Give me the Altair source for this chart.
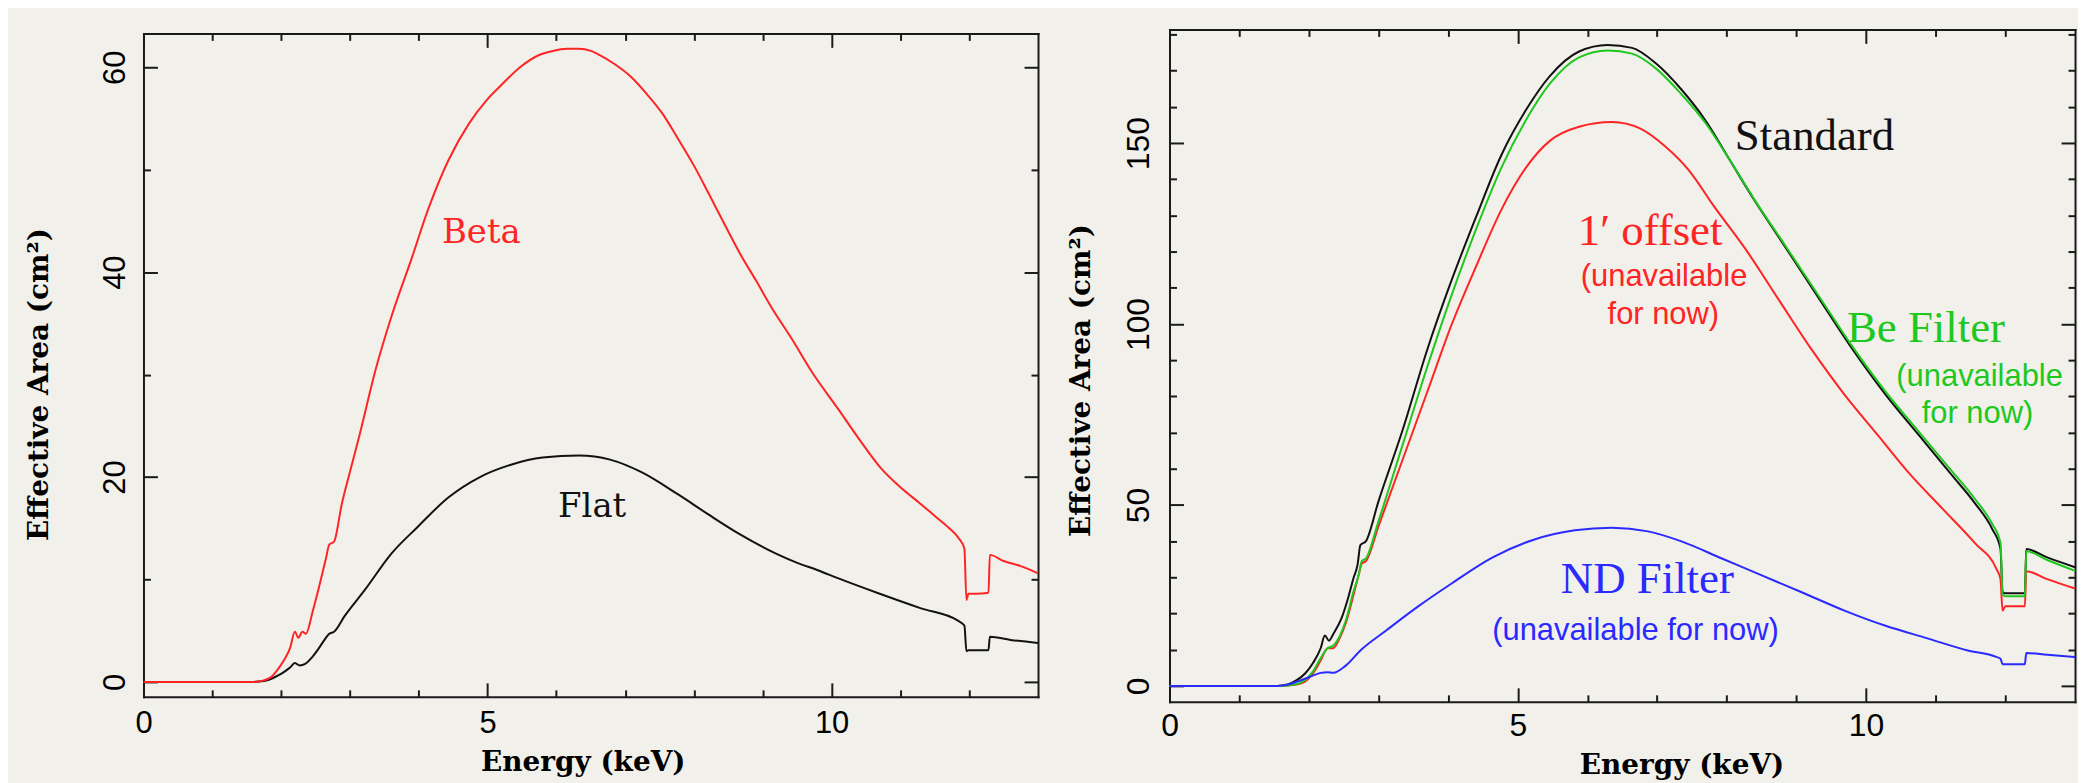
import altair as alt
import pandas as pd

# ---------------- data ----------------
# Left panel
BETA_E = [0, 1.6, 1.75, 1.86, 1.95, 2.05, 2.13, 2.2, 2.25, 2.31, 2.36, 2.46, 2.56, 2.65, 2.70, 2.77,
          2.88, 3.0, 3.14, 3.37, 3.6, 3.9, 4.13, 4.43, 4.73, 5.0, 5.19, 5.49, 5.75, 5.95, 6.15, 6.33,
          6.5, 6.63, 6.85, 7.08, 7.3, 7.54, 7.77, 8.0, 8.22, 8.45, 8.67, 8.9, 9.15, 9.43, 9.7, 10.1,
          10.4, 10.7, 11.0, 11.29, 11.5, 11.71, 11.85, 11.93, 11.96, 11.99, 12.1, 12.28, 12.30, 12.5,
          12.75, 13.0]
BETA_A = [0, 0, 0.15, 0.5, 1.2, 2.2, 3.3, 4.9, 4.3, 4.9, 4.7, 6.9, 9.5, 12.0, 13.4, 13.7,
          17.3, 20.5, 24.1, 30.4, 35.6, 41.4, 46.0, 50.9, 54.5, 56.9, 58.2, 60.1, 61.2, 61.6, 61.8, 61.8,
          61.6, 61.2, 60.3, 59.1, 57.5, 55.5, 53.0, 50.4, 47.6, 44.6, 41.8, 39.2, 36.3, 33.4, 30.4, 26.6,
          23.7, 21.0, 19.0, 17.4, 16.2, 15.0, 14.0, 13.0, 8.0, 8.6, 8.6, 8.7, 12.4, 11.8,
          11.3, 10.6]
FLAT_E = [0, 1.6, 1.75, 1.86, 1.95, 2.05, 2.13, 2.2, 2.27, 2.35, 2.45, 2.54, 2.62, 2.70, 2.77, 2.92,
          3.22, 3.6, 3.98, 4.43, 4.89, 5.34, 5.8, 6.33, 6.78, 7.23, 7.77, 8.22, 8.67, 9.2, 9.51, 9.8,
          10.1, 10.7, 11.29, 11.83, 11.93, 11.96, 11.99, 12.1, 12.28, 12.30, 12.6, 13.0]
FLAT_A = [0, 0, 0.08, 0.3, 0.6, 1.0, 1.4, 1.85, 1.6, 1.75, 2.4, 3.2, 4.0, 4.7, 4.9, 6.4,
          9.0, 12.5, 15.1, 18.0, 20.0, 21.2, 21.9, 22.1, 21.7, 20.5, 18.3, 16.3, 14.4, 12.5, 11.6, 10.9,
          10.1, 8.6, 7.2, 6.0, 5.5, 3.0, 3.1, 3.1, 3.1, 4.4, 4.1, 3.8]

# Right panel
STD_E = [0, 1.55, 1.7, 1.82, 1.95, 2.06, 2.17, 2.23, 2.29, 2.35, 2.47, 2.56, 2.64, 2.70, 2.74, 2.82,
         3.0, 3.35, 3.7, 4.05, 4.41, 4.76, 5.11, 5.46, 5.88, 6.29, 6.64, 6.99, 7.34, 7.7, 8.05, 8.4,
         8.87, 9.34, 9.81, 10.28, 10.75, 11.22, 11.57, 11.81, 11.93, 11.96, 11.99, 12.1, 12.28, 12.30,
         12.6, 13.0]
STD_A = [0, 0, 0.4, 1.5, 3.5, 6.3, 10.4, 13.9, 12.5, 14.3, 18.7, 24.0, 29.7, 33.5, 38.9, 40.0,
         51.0, 70.9, 92.9, 112.1, 130.0, 146.5, 158.9, 168.5, 175.3, 177.1, 176.3, 171.9, 165.0, 156.1,
         145.1, 134.1, 120.4, 106.6, 92.9, 80.5, 69.5, 58.5, 50.3, 43.4, 37.9, 26.0, 25.6, 25.6, 25.6,
         37.8, 35.5, 32.8]
OFF_E = [0, 1.6, 1.8, 1.94, 2.06, 2.17, 2.27, 2.35, 2.45, 2.53, 2.64, 2.72, 2.76, 2.82, 3.0, 3.35,
         3.7, 4.05, 4.41, 4.76, 5.11, 5.46, 5.88, 6.35, 6.76, 7.11, 7.46, 7.81, 8.28, 8.75, 9.22, 9.69,
         10.16, 10.63, 11.1, 11.57, 11.87, 11.93, 11.96, 12.0, 12.1, 12.28, 12.30, 12.6, 13.0]
OFF_A = [0, 0, 0.3, 1.1, 3.5, 7.0, 10.4, 10.4, 13.5, 17.3, 25.0, 31.0, 33.8, 34.5, 44.1, 62.7,
         81.2, 99.8, 116.3, 131.4, 143.0, 150.6, 154.5, 155.8, 154.0, 149.2, 142.4, 132.7, 120.4, 106.6,
         92.9, 80.5, 69.5, 58.5, 48.9, 39.3, 32.4, 29.5, 20.8, 22.0, 22.0, 22.0, 31.7, 29.5, 26.9]
BE_E = [0, 1.6, 1.8, 1.94, 2.06, 2.17, 2.27, 2.35, 2.45, 2.53, 2.64, 2.72, 2.76, 2.82, 3.0, 3.35,
        3.7, 4.05, 4.41, 4.76, 5.11, 5.46, 5.88, 6.29, 6.64, 6.99, 7.34, 7.7, 8.05, 8.4, 8.87, 9.34,
        9.81, 10.28, 10.75, 11.22, 11.57, 11.81, 11.93, 11.96, 11.99, 12.1, 12.28, 12.30, 12.6, 13.0]
BE_A = [0, 0, 0.4, 1.5, 4.0, 7.7, 10.4, 11.1, 14.0, 18.0, 26.0, 31.0, 34.5, 35.2, 45.5, 66.8,
        88.1, 108.0, 126.6, 143.0, 156.1, 166.4, 173.7, 175.6, 174.7, 170.5, 163.7, 155.4, 145.1, 134.3,
        120.8, 107.2, 93.6, 81.3, 70.4, 59.6, 51.5, 44.8, 39.5, 25.5, 24.8, 24.8, 24.8, 37.2, 34.8, 31.8]
ND_E = [0, 1.55, 1.7, 1.82, 2.0, 2.17, 2.27, 2.35, 2.53, 2.74, 3.11, 3.58, 4.05, 4.64, 5.23, 5.82,
        6.35, 6.87, 7.34, 7.93, 8.52, 9.11, 9.69, 10.28, 10.87, 11.46, 11.87, 11.93, 11.96, 12.1,
        12.28, 12.30, 12.6, 13.0]
ND_A = [0, 0, 0.4, 1.1, 2.4, 3.6, 3.8, 3.6, 5.6, 9.8, 15.3, 22.1, 28.3, 35.5, 40.4, 43.0,
        43.7, 42.7, 40.0, 35.2, 30.4, 25.6, 20.8, 16.6, 13.2, 9.8, 8.0, 7.5, 6.0, 6.0,
        6.0, 9.1, 8.6, 8.0]

SERIES = ["Beta", "Flat", "Standard", "1\u2032 offset", "Be Filter", "ND Filter"]
COLORS = ["#ff2424", "#111111", "#111111", "#ff2424", "#1ec81e", "#2a2aff"]

X_MAJOR = [0, 5, 10]
X_MINOR = [1, 2, 3, 4, 6, 7, 8, 9, 11, 12]
L_Y_MAJOR = [0, 20, 40, 60]
L_Y_MINOR = [10, 30, 50]
R_Y_MAJOR = [0, 50, 100, 150]
R_Y_MINOR = [10, 20, 30, 40, 60, 70, 80, 90, 110, 120, 130, 140, 160, 170, 180]

# annotations (text, series, energy, area)
ANN_L_TEXT = ["Beta", "Flat"]
ANN_L_SER = ["Beta", "Flat"]
ANN_L_X = [4.91, 6.52]
ANN_L_Y = [43.8, 17.1]

ANN_R_TEXT = ["Standard", "1\u2032 offset", "Be Filter", "ND Filter"]
ANN_R_SER = ["Standard", "1\u2032 offset", "Be Filter", "ND Filter"]
ANN_R_X = [9.26, 6.9, 10.86, 6.86]
ANN_R_Y = [152.0, 125.8, 98.8, 29.5]

NOTE_TEXT = ["(unavailable", "for now)", "(unavailable", "for now)", "(unavailable for now)"]
NOTE_SER = ["1\u2032 offset", "1\u2032 offset", "Be Filter", "Be Filter", "ND Filter"]
NOTE_X = [7.1, 7.09, 11.63, 11.6, 6.69]
NOTE_Y = [112.9, 102.4, 85.3, 75.1, 15.1]

# ---------------- layout ----------------
W, H = 2078, 775
BG = "#f2f0eb"
FRAME = "#1a1a1a"
SANS = "Liberation Sans"
SERIF = "DejaVu Serif"

PANELS = {
    "L": dict(xr=[136, 1034], yd=[-1.459, 63.31], yr=[690, 24], ymaj=L_Y_MAJOR, ymin=L_Y_MINOR,
              lfs=31, xlp=12, ylp=19, xtx=577, xty=66, ytx=-104, yty=376, tfs=28),
    "R": dict(xr=[1166, 2075], yd=[-4.40, 181.4], yr=[695, 20], ymaj=R_Y_MAJOR, ymin=R_Y_MINOR,
              lfs=32, xlp=9, ylp=21, xtx=1680, xty=64, ytx=-88, yty=372, tfs=28),
}

color_scale = alt.Scale(domain=SERIES, range=COLORS)


def series_df(name, e, a):
    return pd.DataFrame({"keV": e, "area": a, "series": [name] * len(e)})


def xenc(p, axis):
    return alt.X("keV:Q", scale=alt.Scale(domain=[0, 13], range=p["xr"], nice=False, zero=False), axis=axis)


def yenc(p, axis):
    return alt.Y("area:Q", scale=alt.Scale(domain=p["yd"], range=p["yr"], nice=False, zero=False), axis=axis)


def tick_axis(orient, offset, values, size, domain=False):
    return alt.Axis(orient=orient, offset=offset, values=values, ticks=True, tickSize=size,
                    tickWidth=2, tickColor=FRAME, labels=False, domain=domain, domainColor=FRAME,
                    domainWidth=2, domainCap="square", grid=False, title="")


def label_x_axis(p):
    return alt.Axis(orient="bottom", offset=p["yr"][0] - H, values=X_MAJOR, format="d",
                    ticks=False, tickSize=0, domain=True, domainColor=FRAME, domainWidth=2,
                    domainCap="square", grid=False, labelFont=SANS, labelFontSize=p["lfs"],
                    labelColor="#000000", labelPadding=p["xlp"], labelBaseline="top",
                    labelAlign="center", labelFlush=False, labelOverlap=False,
                    title="Energy (keV)", titleFont=SERIF, titleFontSize=p["tfs"], titleFontWeight="bold",
                    titleColor="#000000", titleX=p["xtx"], titleY=p["xty"], titleAlign="center",
                    titleBaseline="middle", titleAngle=0)


def label_y_axis(p):
    return alt.Axis(orient="left", offset=-p["xr"][0], values=p["ymaj"], format="d",
                    ticks=False, tickSize=0, domain=True, domainColor=FRAME, domainWidth=2,
                    domainCap="square", grid=False, labelFont=SANS, labelFontSize=p["lfs"],
                    labelColor="#000000", labelPadding=p["ylp"], labelAngle=270,
                    labelAlign="center", labelBaseline="alphabetic", labelFlush=False,
                    labelOverlap=False, title="Effective Area (cm\u00b2)", titleFont=SERIF,
                    titleFontSize=p["tfs"], titleFontWeight="bold", titleColor="#000000",
                    titleX=p["ytx"], titleY=p["yty"], titleAngle=270, titleAlign="center",
                    titleBaseline="middle")


def panel_layers(key, series_list):
    p = PANELS[key]
    base_df = series_df(*series_list[0])
    layers = []
    # frame + inward ticks (invisible carrier marks)
    edge_specs = [
        (tick_axis("top", -p["yr"][0], X_MAJOR, 14), tick_axis("right", p["xr"][0] - W, p["ymaj"], 14)),
        (tick_axis("top", -p["yr"][0], X_MINOR, 7), tick_axis("right", p["xr"][0] - W, p["ymin"], 7)),
        (tick_axis("bottom", p["yr"][1] - H, X_MAJOR, 14, True), tick_axis("left", -p["xr"][1], p["ymaj"], 14, True)),
        (tick_axis("bottom", p["yr"][1] - H, X_MINOR, 7), tick_axis("left", -p["xr"][1], p["ymin"], 7)),
    ]
    for ax_x, ax_y in edge_specs:
        layers.append(
            alt.Chart(base_df).mark_line(strokeOpacity=0).encode(x=xenc(p, ax_x), y=yenc(p, ax_y))
        )
    # data lines
    for i, (name, e, a) in enumerate(series_list):
        df = series_df(name, e, a)
        if i == 0:
            xa, ya = label_x_axis(p), label_y_axis(p)
        else:
            xa, ya = None, None
        layers.append(
            alt.Chart(df).mark_line(strokeWidth=2, strokeJoin="round", interpolate="monotone").encode(
                x=xenc(p, xa), y=yenc(p, ya),
                color=alt.Color("series:N", scale=color_scale, legend=None),
            )
        )
    return layers


def text_layer(key, texts, sers, xs, ys, font, size):
    p = PANELS[key]
    df = pd.DataFrame({"label": texts, "series": sers, "keV": xs, "area": ys})
    return alt.Chart(df).mark_text(font=font, fontSize=size, align="center", baseline="middle").encode(
        x=xenc(p, None), y=yenc(p, None), text="label:N",
        color=alt.Color("series:N", scale=color_scale, legend=None),
    )


left = panel_layers("L", [("Flat", FLAT_E, FLAT_A), ("Beta", BETA_E, BETA_A)])
right = panel_layers("R", [("Standard", STD_E, STD_A), ("1\u2032 offset", OFF_E, OFF_A),
                           ("Be Filter", BE_E, BE_A), ("ND Filter", ND_E, ND_A)])
texts = [
    text_layer("L", ANN_L_TEXT, ANN_L_SER, ANN_L_X, ANN_L_Y, SERIF, 34),
    text_layer("R", ANN_R_TEXT, ANN_R_SER, ANN_R_X, ANN_R_Y, "Liberation Serif", 45),
    text_layer("R", NOTE_TEXT, NOTE_SER, NOTE_X, NOTE_Y, SANS, 31),
]

chart = alt.layer(*left, *right, *texts).resolve_scale(
    x="independent", y="independent"
).resolve_axis(
    x="independent", y="independent"
).properties(
    width=W, height=H, background=BG, padding=0,
    autosize=alt.AutoSizeParams(type="none"),
).configure_view(strokeWidth=0)

chart.save("out.html", embed_options={"renderer": "svg", "actions": False})
